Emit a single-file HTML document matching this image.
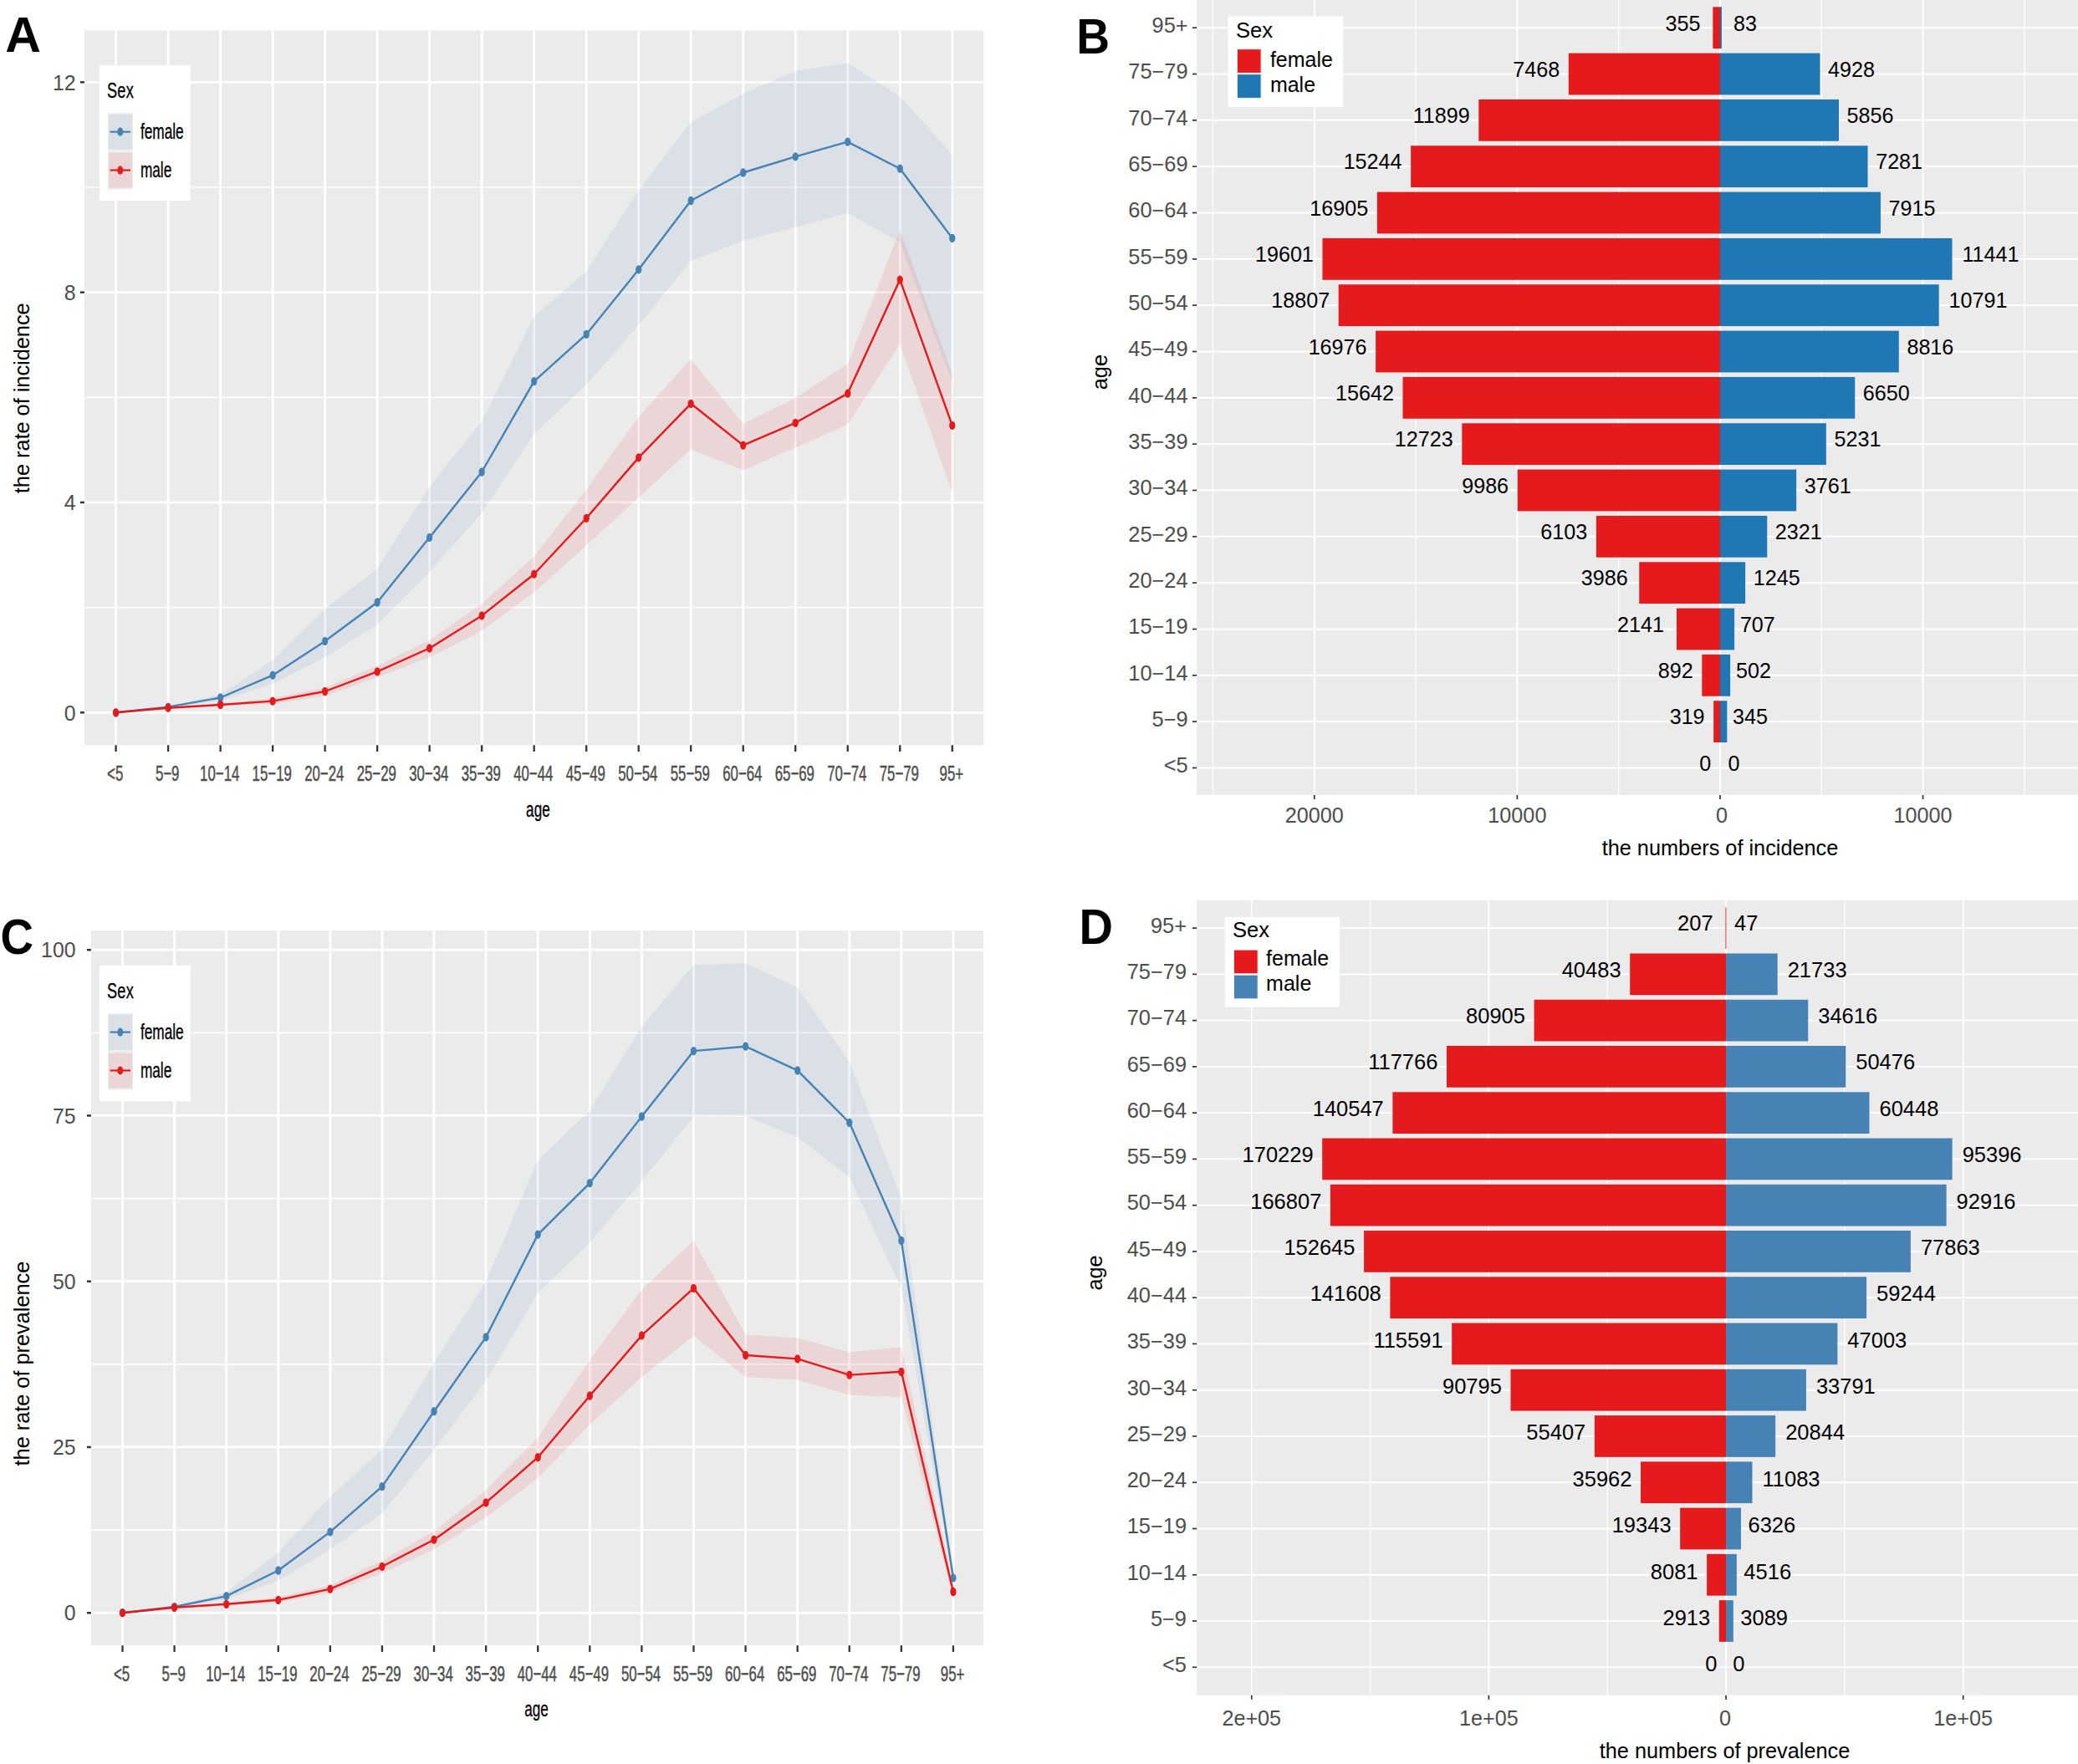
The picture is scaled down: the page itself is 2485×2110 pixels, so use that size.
<!DOCTYPE html>
<html lang="en"><head><meta charset="utf-8"><title>Incidence and prevalence by age and sex</title>
<style>html,body{margin:0;padding:0;background:#fff}body{width:2485px;height:2110px;overflow:hidden}svg{display:block}text{font-family:"Liberation Sans",sans-serif}</style></head>
<body>
<svg width="2485" height="2110" viewBox="0 0 2485 2110" font-family="'Liberation Sans', sans-serif">
<rect width="2485" height="2110" fill="#fff"/>
<rect x="100.9" y="36.5" width="1075.4" height="854.8" fill="#EBEBEB"/>
<line x1="100.9" x2="1176.3" y1="726.64" y2="726.64" stroke="#fff" stroke-opacity="0.95" stroke-width="1.7"/>
<line x1="100.9" x2="1176.3" y1="475.32" y2="475.32" stroke="#fff" stroke-opacity="0.95" stroke-width="1.7"/>
<line x1="100.9" x2="1176.3" y1="224" y2="224" stroke="#fff" stroke-opacity="0.95" stroke-width="1.7"/>
<line x1="100.9" x2="1176.3" y1="852.3" y2="852.3" stroke="#fff" stroke-width="2.75"/>
<line x1="100.9" x2="1176.3" y1="600.98" y2="600.98" stroke="#fff" stroke-width="2.75"/>
<line x1="100.9" x2="1176.3" y1="349.66" y2="349.66" stroke="#fff" stroke-width="2.75"/>
<line x1="100.9" x2="1176.3" y1="98.34" y2="98.34" stroke="#fff" stroke-width="2.75"/>
<line x1="138.6" x2="138.6" y1="36.5" y2="891.3" stroke="#fff" stroke-width="2.95"/>
<line x1="201.11" x2="201.11" y1="36.5" y2="891.3" stroke="#fff" stroke-width="2.95"/>
<line x1="263.62" x2="263.62" y1="36.5" y2="891.3" stroke="#fff" stroke-width="2.95"/>
<line x1="326.13" x2="326.13" y1="36.5" y2="891.3" stroke="#fff" stroke-width="2.95"/>
<line x1="388.64" x2="388.64" y1="36.5" y2="891.3" stroke="#fff" stroke-width="2.95"/>
<line x1="451.15" x2="451.15" y1="36.5" y2="891.3" stroke="#fff" stroke-width="2.95"/>
<line x1="513.66" x2="513.66" y1="36.5" y2="891.3" stroke="#fff" stroke-width="2.95"/>
<line x1="576.17" x2="576.17" y1="36.5" y2="891.3" stroke="#fff" stroke-width="2.95"/>
<line x1="638.68" x2="638.68" y1="36.5" y2="891.3" stroke="#fff" stroke-width="2.95"/>
<line x1="701.19" x2="701.19" y1="36.5" y2="891.3" stroke="#fff" stroke-width="2.95"/>
<line x1="763.7" x2="763.7" y1="36.5" y2="891.3" stroke="#fff" stroke-width="2.95"/>
<line x1="826.21" x2="826.21" y1="36.5" y2="891.3" stroke="#fff" stroke-width="2.95"/>
<line x1="888.72" x2="888.72" y1="36.5" y2="891.3" stroke="#fff" stroke-width="2.95"/>
<line x1="951.23" x2="951.23" y1="36.5" y2="891.3" stroke="#fff" stroke-width="2.95"/>
<line x1="1013.74" x2="1013.74" y1="36.5" y2="891.3" stroke="#fff" stroke-width="2.95"/>
<line x1="1076.25" x2="1076.25" y1="36.5" y2="891.3" stroke="#fff" stroke-width="2.95"/>
<line x1="1138.76" x2="1138.76" y1="36.5" y2="891.3" stroke="#fff" stroke-width="2.95"/>
<polygon points="138.6,852.3 201.11,845 263.62,830.7 326.13,789.9 388.64,728.6 451.15,680.4 513.66,582 576.17,504 638.68,378.6 701.19,324.8 763.7,227.5 826.21,146.1 888.72,112.2 951.23,84.7 1013.74,75.4 1076.25,115.2 1138.76,185 1138.76,457 1076.25,289.7 1013.74,255 951.23,271.8 888.72,287.9 826.21,311.9 763.7,389.1 701.19,460 638.68,518.8 576.17,613.5 513.66,684.1 451.15,747.2 388.64,786.2 326.13,817.8 263.62,838.2 201.11,846.2 138.6,852.3" fill="#4682B4" fill-opacity="0.1"/>
<polygon points="138.6,852.3 201.11,846 263.62,842 326.13,835.2 388.64,822.6 451.15,796.6 513.66,765.8 576.17,722.3 638.68,665.5 701.19,585.7 763.7,498.4 826.21,429.7 888.72,506.9 951.23,476.1 1013.74,435.3 1076.25,275.4 1138.76,448 1138.76,589.4 1076.25,411.6 1013.74,507.7 951.23,535.5 888.72,562.3 826.21,537.4 763.7,595 701.19,652.5 638.68,708.2 576.17,754.6 513.66,786.2 451.15,810.3 388.64,832.6 326.13,841.9 263.62,844 201.11,847.4 138.6,852.3" fill="#E41A1C" fill-opacity="0.1"/>
<polyline fill="none" stroke="#4682B4" stroke-width="2.4" stroke-linejoin="round" points="138.6,852.3 201.11,845.6 263.62,834.5 326.13,807.7 388.64,766.9 451.15,720.5 513.66,642.9 576.17,564.5 638.68,456.1 701.19,399.9 763.7,322.4 826.21,240 888.72,206.5 951.23,187.4 1013.74,169.7 1076.25,201.7 1138.76,284.9"/>
<ellipse cx="138.6" cy="852.3" rx="3.65" ry="5.15" fill="#4682B4"/>
<ellipse cx="201.11" cy="845.6" rx="3.65" ry="5.15" fill="#4682B4"/>
<ellipse cx="263.62" cy="834.5" rx="3.65" ry="5.15" fill="#4682B4"/>
<ellipse cx="326.13" cy="807.7" rx="3.65" ry="5.15" fill="#4682B4"/>
<ellipse cx="388.64" cy="766.9" rx="3.65" ry="5.15" fill="#4682B4"/>
<ellipse cx="451.15" cy="720.5" rx="3.65" ry="5.15" fill="#4682B4"/>
<ellipse cx="513.66" cy="642.9" rx="3.65" ry="5.15" fill="#4682B4"/>
<ellipse cx="576.17" cy="564.5" rx="3.65" ry="5.15" fill="#4682B4"/>
<ellipse cx="638.68" cy="456.1" rx="3.65" ry="5.15" fill="#4682B4"/>
<ellipse cx="701.19" cy="399.9" rx="3.65" ry="5.15" fill="#4682B4"/>
<ellipse cx="763.7" cy="322.4" rx="3.65" ry="5.15" fill="#4682B4"/>
<ellipse cx="826.21" cy="240" rx="3.65" ry="5.15" fill="#4682B4"/>
<ellipse cx="888.72" cy="206.5" rx="3.65" ry="5.15" fill="#4682B4"/>
<ellipse cx="951.23" cy="187.4" rx="3.65" ry="5.15" fill="#4682B4"/>
<ellipse cx="1013.74" cy="169.7" rx="3.65" ry="5.15" fill="#4682B4"/>
<ellipse cx="1076.25" cy="201.7" rx="3.65" ry="5.15" fill="#4682B4"/>
<ellipse cx="1138.76" cy="284.9" rx="3.65" ry="5.15" fill="#4682B4"/>
<polyline fill="none" stroke="#E41A1C" stroke-width="2.4" stroke-linejoin="round" points="138.6,852.3 201.11,846.7 263.62,843 326.13,838.6 388.64,827 451.15,803.3 513.66,775.4 576.17,736.4 638.68,686.7 701.19,619.8 763.7,547.4 826.21,482.8 888.72,532.6 951.23,505.8 1013.74,470.6 1076.25,334.6 1138.76,508.8"/>
<ellipse cx="138.6" cy="852.3" rx="3.65" ry="5.15" fill="#E41A1C"/>
<ellipse cx="201.11" cy="846.7" rx="3.65" ry="5.15" fill="#E41A1C"/>
<ellipse cx="263.62" cy="843" rx="3.65" ry="5.15" fill="#E41A1C"/>
<ellipse cx="326.13" cy="838.6" rx="3.65" ry="5.15" fill="#E41A1C"/>
<ellipse cx="388.64" cy="827" rx="3.65" ry="5.15" fill="#E41A1C"/>
<ellipse cx="451.15" cy="803.3" rx="3.65" ry="5.15" fill="#E41A1C"/>
<ellipse cx="513.66" cy="775.4" rx="3.65" ry="5.15" fill="#E41A1C"/>
<ellipse cx="576.17" cy="736.4" rx="3.65" ry="5.15" fill="#E41A1C"/>
<ellipse cx="638.68" cy="686.7" rx="3.65" ry="5.15" fill="#E41A1C"/>
<ellipse cx="701.19" cy="619.8" rx="3.65" ry="5.15" fill="#E41A1C"/>
<ellipse cx="763.7" cy="547.4" rx="3.65" ry="5.15" fill="#E41A1C"/>
<ellipse cx="826.21" cy="482.8" rx="3.65" ry="5.15" fill="#E41A1C"/>
<ellipse cx="888.72" cy="532.6" rx="3.65" ry="5.15" fill="#E41A1C"/>
<ellipse cx="951.23" cy="505.8" rx="3.65" ry="5.15" fill="#E41A1C"/>
<ellipse cx="1013.74" cy="470.6" rx="3.65" ry="5.15" fill="#E41A1C"/>
<ellipse cx="1076.25" cy="334.6" rx="3.65" ry="5.15" fill="#E41A1C"/>
<ellipse cx="1138.76" cy="508.8" rx="3.65" ry="5.15" fill="#E41A1C"/>
<line x1="138.6" x2="138.6" y1="891.3" y2="899" stroke="#333333" stroke-width="2.3"/>
<text transform="translate(137.7,934) scale(0.652,1)" text-anchor="middle" font-size="25.8" fill="#4D4D4D" stroke="#4D4D4D" stroke-width="0.45">&lt;5</text>
<line x1="201.11" x2="201.11" y1="891.3" y2="899" stroke="#333333" stroke-width="2.3"/>
<text transform="translate(200.21,934) scale(0.652,1)" text-anchor="middle" font-size="25.8" fill="#4D4D4D" stroke="#4D4D4D" stroke-width="0.45">5−9</text>
<line x1="263.62" x2="263.62" y1="891.3" y2="899" stroke="#333333" stroke-width="2.3"/>
<text transform="translate(262.72,934) scale(0.652,1)" text-anchor="middle" font-size="25.8" fill="#4D4D4D" stroke="#4D4D4D" stroke-width="0.45">10−14</text>
<line x1="326.13" x2="326.13" y1="891.3" y2="899" stroke="#333333" stroke-width="2.3"/>
<text transform="translate(325.23,934) scale(0.652,1)" text-anchor="middle" font-size="25.8" fill="#4D4D4D" stroke="#4D4D4D" stroke-width="0.45">15−19</text>
<line x1="388.64" x2="388.64" y1="891.3" y2="899" stroke="#333333" stroke-width="2.3"/>
<text transform="translate(387.74,934) scale(0.652,1)" text-anchor="middle" font-size="25.8" fill="#4D4D4D" stroke="#4D4D4D" stroke-width="0.45">20−24</text>
<line x1="451.15" x2="451.15" y1="891.3" y2="899" stroke="#333333" stroke-width="2.3"/>
<text transform="translate(450.25,934) scale(0.652,1)" text-anchor="middle" font-size="25.8" fill="#4D4D4D" stroke="#4D4D4D" stroke-width="0.45">25−29</text>
<line x1="513.66" x2="513.66" y1="891.3" y2="899" stroke="#333333" stroke-width="2.3"/>
<text transform="translate(512.76,934) scale(0.652,1)" text-anchor="middle" font-size="25.8" fill="#4D4D4D" stroke="#4D4D4D" stroke-width="0.45">30−34</text>
<line x1="576.17" x2="576.17" y1="891.3" y2="899" stroke="#333333" stroke-width="2.3"/>
<text transform="translate(575.27,934) scale(0.652,1)" text-anchor="middle" font-size="25.8" fill="#4D4D4D" stroke="#4D4D4D" stroke-width="0.45">35−39</text>
<line x1="638.68" x2="638.68" y1="891.3" y2="899" stroke="#333333" stroke-width="2.3"/>
<text transform="translate(637.78,934) scale(0.652,1)" text-anchor="middle" font-size="25.8" fill="#4D4D4D" stroke="#4D4D4D" stroke-width="0.45">40−44</text>
<line x1="701.19" x2="701.19" y1="891.3" y2="899" stroke="#333333" stroke-width="2.3"/>
<text transform="translate(700.29,934) scale(0.652,1)" text-anchor="middle" font-size="25.8" fill="#4D4D4D" stroke="#4D4D4D" stroke-width="0.45">45−49</text>
<line x1="763.7" x2="763.7" y1="891.3" y2="899" stroke="#333333" stroke-width="2.3"/>
<text transform="translate(762.8,934) scale(0.652,1)" text-anchor="middle" font-size="25.8" fill="#4D4D4D" stroke="#4D4D4D" stroke-width="0.45">50−54</text>
<line x1="826.21" x2="826.21" y1="891.3" y2="899" stroke="#333333" stroke-width="2.3"/>
<text transform="translate(825.31,934) scale(0.652,1)" text-anchor="middle" font-size="25.8" fill="#4D4D4D" stroke="#4D4D4D" stroke-width="0.45">55−59</text>
<line x1="888.72" x2="888.72" y1="891.3" y2="899" stroke="#333333" stroke-width="2.3"/>
<text transform="translate(887.82,934) scale(0.652,1)" text-anchor="middle" font-size="25.8" fill="#4D4D4D" stroke="#4D4D4D" stroke-width="0.45">60−64</text>
<line x1="951.23" x2="951.23" y1="891.3" y2="899" stroke="#333333" stroke-width="2.3"/>
<text transform="translate(950.33,934) scale(0.652,1)" text-anchor="middle" font-size="25.8" fill="#4D4D4D" stroke="#4D4D4D" stroke-width="0.45">65−69</text>
<line x1="1013.74" x2="1013.74" y1="891.3" y2="899" stroke="#333333" stroke-width="2.3"/>
<text transform="translate(1012.84,934) scale(0.652,1)" text-anchor="middle" font-size="25.8" fill="#4D4D4D" stroke="#4D4D4D" stroke-width="0.45">70−74</text>
<line x1="1076.25" x2="1076.25" y1="891.3" y2="899" stroke="#333333" stroke-width="2.3"/>
<text transform="translate(1075.35,934) scale(0.652,1)" text-anchor="middle" font-size="25.8" fill="#4D4D4D" stroke="#4D4D4D" stroke-width="0.45">75−79</text>
<line x1="1138.76" x2="1138.76" y1="891.3" y2="899" stroke="#333333" stroke-width="2.3"/>
<text transform="translate(1137.86,934) scale(0.652,1)" text-anchor="middle" font-size="25.8" fill="#4D4D4D" stroke="#4D4D4D" stroke-width="0.45">95+</text>
<line x1="95.9" x2="100.9" y1="852.3" y2="852.3" stroke="#333333" stroke-width="2.5"/>
<text transform="translate(90.6,861.5) scale(1,1.035)" text-anchor="end" font-size="24.9" fill="#4D4D4D">0</text>
<line x1="95.9" x2="100.9" y1="600.98" y2="600.98" stroke="#333333" stroke-width="2.5"/>
<text transform="translate(90.6,610.18) scale(1,1.035)" text-anchor="end" font-size="24.9" fill="#4D4D4D">4</text>
<line x1="95.9" x2="100.9" y1="349.66" y2="349.66" stroke="#333333" stroke-width="2.5"/>
<text transform="translate(90.6,358.86) scale(1,1.035)" text-anchor="end" font-size="24.9" fill="#4D4D4D">8</text>
<line x1="95.9" x2="100.9" y1="98.34" y2="98.34" stroke="#333333" stroke-width="2.5"/>
<text transform="translate(90.6,107.54) scale(1,1.035)" text-anchor="end" font-size="24.9" fill="#4D4D4D">12</text>
<text transform="translate(643.4,977.2) scale(0.67,1)" text-anchor="middle" font-size="25.6" fill="#000" stroke="#000" stroke-width="0.3">age</text>
<text transform="translate(34.8,476.3) rotate(-90)" text-anchor="middle" font-size="25.3" fill="#000">the rate of incidence</text>
<rect x="119" y="78" width="108.7" height="162.2" fill="#fff"/>
<text transform="translate(127.9,117) scale(0.693,1)" font-size="26.2" letter-spacing="0.4" fill="#000" stroke="#000" stroke-width="0.3">Sex</text>
<rect x="128.8" y="135.2" width="30.2" height="91.6" fill="#EEEEEE"/>
<rect x="129.9" y="136.8" width="28" height="42" fill="#EBEBEB"/>
<rect x="129.9" y="136.8" width="28" height="42" fill="#4682B4" fill-opacity="0.1"/>
<line x1="131.6" x2="156" y1="157.7" y2="157.7" stroke="#4682B4" stroke-width="2.2"/>
<ellipse cx="143.8" cy="157.7" rx="3.5" ry="5.1" fill="#4682B4"/>
<text transform="translate(167.9,165.8) scale(0.693,1)" font-size="24.9" fill="#000" stroke="#000" stroke-width="0.3">female</text>
<rect x="129.9" y="182.8" width="28" height="42" fill="#EBEBEB"/>
<rect x="129.9" y="182.8" width="28" height="42" fill="#E41A1C" fill-opacity="0.1"/>
<line x1="131.6" x2="156" y1="203.6" y2="203.6" stroke="#E41A1C" stroke-width="2.2"/>
<ellipse cx="143.8" cy="203.6" rx="3.5" ry="5.1" fill="#E41A1C"/>
<text transform="translate(167.9,211.7) scale(0.693,1)" font-size="24.9" fill="#000" stroke="#000" stroke-width="0.3">male</text>
<text transform="translate(6.2,62.4) scale(1,1)" font-size="59" font-weight="bold" fill="#000">A</text>
<rect x="1431.2" y="0" width="1053.8" height="950.9" fill="#EBEBEB"/>
<line x1="1450.5" x2="1450.5" y1="0" y2="950.9" stroke="#fff" stroke-opacity="0.85" stroke-width="1.5"/>
<line x1="1693.08" x2="1693.08" y1="0" y2="950.9" stroke="#fff" stroke-opacity="0.85" stroke-width="1.5"/>
<line x1="1935.66" x2="1935.66" y1="0" y2="950.9" stroke="#fff" stroke-opacity="0.85" stroke-width="1.5"/>
<line x1="2178.24" x2="2178.24" y1="0" y2="950.9" stroke="#fff" stroke-opacity="0.85" stroke-width="1.5"/>
<line x1="2420.82" x2="2420.82" y1="0" y2="950.9" stroke="#fff" stroke-opacity="0.85" stroke-width="1.5"/>
<line x1="1571.79" x2="1571.79" y1="0" y2="950.9" stroke="#fff" stroke-width="2.0"/>
<line x1="1814.37" x2="1814.37" y1="0" y2="950.9" stroke="#fff" stroke-width="2.0"/>
<line x1="2056.95" x2="2056.95" y1="0" y2="950.9" stroke="#fff" stroke-width="2.0"/>
<line x1="2299.53" x2="2299.53" y1="0" y2="950.9" stroke="#fff" stroke-width="2.0"/>
<line x1="1431.2" x2="2485" y1="918.48" y2="918.48" stroke="#fff" stroke-width="2.0"/>
<line x1="1431.2" x2="2485" y1="863.15" y2="863.15" stroke="#fff" stroke-width="2.0"/>
<line x1="1431.2" x2="2485" y1="807.82" y2="807.82" stroke="#fff" stroke-width="2.0"/>
<line x1="1431.2" x2="2485" y1="752.49" y2="752.49" stroke="#fff" stroke-width="2.0"/>
<line x1="1431.2" x2="2485" y1="697.16" y2="697.16" stroke="#fff" stroke-width="2.0"/>
<line x1="1431.2" x2="2485" y1="641.83" y2="641.83" stroke="#fff" stroke-width="2.0"/>
<line x1="1431.2" x2="2485" y1="586.5" y2="586.5" stroke="#fff" stroke-width="2.0"/>
<line x1="1431.2" x2="2485" y1="531.17" y2="531.17" stroke="#fff" stroke-width="2.0"/>
<line x1="1431.2" x2="2485" y1="475.84" y2="475.84" stroke="#fff" stroke-width="2.0"/>
<line x1="1431.2" x2="2485" y1="420.51" y2="420.51" stroke="#fff" stroke-width="2.0"/>
<line x1="1431.2" x2="2485" y1="365.18" y2="365.18" stroke="#fff" stroke-width="2.0"/>
<line x1="1431.2" x2="2485" y1="309.85" y2="309.85" stroke="#fff" stroke-width="2.0"/>
<line x1="1431.2" x2="2485" y1="254.52" y2="254.52" stroke="#fff" stroke-width="2.0"/>
<line x1="1431.2" x2="2485" y1="199.19" y2="199.19" stroke="#fff" stroke-width="2.0"/>
<line x1="1431.2" x2="2485" y1="143.86" y2="143.86" stroke="#fff" stroke-width="2.0"/>
<line x1="1431.2" x2="2485" y1="88.53" y2="88.53" stroke="#fff" stroke-width="2.0"/>
<line x1="1431.2" x2="2485" y1="33.2" y2="33.2" stroke="#fff" stroke-width="2.0"/>
<text x="2046.35" y="921.78" text-anchor="end" font-size="25.15" fill="#000">0</text>
<text x="2066.55" y="921.78" font-size="25.15" fill="#000">0</text>
<line x1="1426" x2="1431.2" y1="918.48" y2="918.48" stroke="#333333" stroke-width="1.7"/>
<text x="1420.6" y="924.28" text-anchor="end" font-size="25.4" fill="#4D4D4D">&lt;5</text>
<rect x="2049.21" y="838.25" width="8.04" height="49.8" fill="#E41A1C"/>
<rect x="2056.95" y="838.25" width="8.37" height="49.8" fill="#1F78B4"/>
<text x="2038.61" y="866.45" text-anchor="end" font-size="25.15" fill="#000">319</text>
<text x="2072.12" y="866.45" font-size="25.15" fill="#000">345</text>
<line x1="1426" x2="1431.2" y1="863.15" y2="863.15" stroke="#333333" stroke-width="1.7"/>
<text x="1420.6" y="868.95" text-anchor="end" font-size="25.4" fill="#4D4D4D">5−9</text>
<rect x="2035.31" y="782.92" width="21.94" height="49.8" fill="#E41A1C"/>
<rect x="2056.95" y="782.92" width="12.18" height="49.8" fill="#1F78B4"/>
<text x="2024.71" y="811.12" text-anchor="end" font-size="25.15" fill="#000">892</text>
<text x="2075.93" y="811.12" font-size="25.15" fill="#000">502</text>
<line x1="1426" x2="1431.2" y1="807.82" y2="807.82" stroke="#333333" stroke-width="1.7"/>
<text x="1420.6" y="813.62" text-anchor="end" font-size="25.4" fill="#4D4D4D">10−14</text>
<rect x="2005.01" y="727.59" width="52.24" height="49.8" fill="#E41A1C"/>
<rect x="2056.95" y="727.59" width="17.15" height="49.8" fill="#1F78B4"/>
<text x="1990.01" y="755.79" text-anchor="end" font-size="25.15" fill="#000">2141</text>
<text x="2080.9" y="755.79" font-size="25.15" fill="#000">707</text>
<line x1="1426" x2="1431.2" y1="752.49" y2="752.49" stroke="#333333" stroke-width="1.7"/>
<text x="1420.6" y="758.29" text-anchor="end" font-size="25.4" fill="#4D4D4D">15−19</text>
<rect x="1960.26" y="672.26" width="96.99" height="49.8" fill="#E41A1C"/>
<rect x="2056.95" y="672.26" width="30.2" height="49.8" fill="#1F78B4"/>
<text x="1946.76" y="700.46" text-anchor="end" font-size="25.15" fill="#000">3986</text>
<text x="2096.75" y="700.46" font-size="25.15" fill="#000">1245</text>
<line x1="1426" x2="1431.2" y1="697.16" y2="697.16" stroke="#333333" stroke-width="1.7"/>
<text x="1420.6" y="702.96" text-anchor="end" font-size="25.4" fill="#4D4D4D">20−24</text>
<rect x="1908.9" y="616.93" width="148.35" height="49.8" fill="#E41A1C"/>
<rect x="2056.95" y="616.93" width="56.3" height="49.8" fill="#1F78B4"/>
<text x="1898.3" y="645.13" text-anchor="end" font-size="25.15" fill="#000">6103</text>
<text x="2122.85" y="645.13" font-size="25.15" fill="#000">2321</text>
<line x1="1426" x2="1431.2" y1="641.83" y2="641.83" stroke="#333333" stroke-width="1.7"/>
<text x="1420.6" y="647.63" text-anchor="end" font-size="25.4" fill="#4D4D4D">25−29</text>
<rect x="1814.71" y="561.6" width="242.54" height="49.8" fill="#E41A1C"/>
<rect x="2056.95" y="561.6" width="91.23" height="49.8" fill="#1F78B4"/>
<text x="1804.11" y="589.8" text-anchor="end" font-size="25.15" fill="#000">9986</text>
<text x="2157.78" y="589.8" font-size="25.15" fill="#000">3761</text>
<line x1="1426" x2="1431.2" y1="586.5" y2="586.5" stroke="#333333" stroke-width="1.7"/>
<text x="1420.6" y="592.3" text-anchor="end" font-size="25.4" fill="#4D4D4D">30−34</text>
<rect x="1748.32" y="506.27" width="308.93" height="49.8" fill="#E41A1C"/>
<rect x="2056.95" y="506.27" width="126.89" height="49.8" fill="#1F78B4"/>
<text x="1737.72" y="534.47" text-anchor="end" font-size="25.15" fill="#000">12723</text>
<text x="2193.44" y="534.47" font-size="25.15" fill="#000">5231</text>
<line x1="1426" x2="1431.2" y1="531.17" y2="531.17" stroke="#333333" stroke-width="1.7"/>
<text x="1420.6" y="536.97" text-anchor="end" font-size="25.4" fill="#4D4D4D">35−39</text>
<rect x="1677.51" y="450.94" width="379.74" height="49.8" fill="#E41A1C"/>
<rect x="2056.95" y="450.94" width="161.32" height="49.8" fill="#1F78B4"/>
<text x="1666.91" y="479.14" text-anchor="end" font-size="25.15" fill="#000">15642</text>
<text x="2227.87" y="479.14" font-size="25.15" fill="#000">6650</text>
<line x1="1426" x2="1431.2" y1="475.84" y2="475.84" stroke="#333333" stroke-width="1.7"/>
<text x="1420.6" y="481.64" text-anchor="end" font-size="25.4" fill="#4D4D4D">40−44</text>
<rect x="1645.15" y="395.61" width="412.1" height="49.8" fill="#E41A1C"/>
<rect x="2056.95" y="395.61" width="213.86" height="49.8" fill="#1F78B4"/>
<text x="1634.55" y="423.81" text-anchor="end" font-size="25.15" fill="#000">16976</text>
<text x="2280.41" y="423.81" font-size="25.15" fill="#000">8816</text>
<line x1="1426" x2="1431.2" y1="420.51" y2="420.51" stroke="#333333" stroke-width="1.7"/>
<text x="1420.6" y="426.31" text-anchor="end" font-size="25.4" fill="#4D4D4D">45−49</text>
<rect x="1600.73" y="340.28" width="456.52" height="49.8" fill="#E41A1C"/>
<rect x="2056.95" y="340.28" width="261.77" height="49.8" fill="#1F78B4"/>
<text x="1590.13" y="368.48" text-anchor="end" font-size="25.15" fill="#000">18807</text>
<text x="2330.62" y="368.48" font-size="25.15" fill="#000">10791</text>
<line x1="1426" x2="1431.2" y1="365.18" y2="365.18" stroke="#333333" stroke-width="1.7"/>
<text x="1420.6" y="370.98" text-anchor="end" font-size="25.4" fill="#4D4D4D">50−54</text>
<rect x="1581.47" y="284.95" width="475.78" height="49.8" fill="#E41A1C"/>
<rect x="2056.95" y="284.95" width="277.54" height="49.8" fill="#1F78B4"/>
<text x="1570.87" y="313.15" text-anchor="end" font-size="25.15" fill="#000">19601</text>
<text x="2346.39" y="313.15" font-size="25.15" fill="#000">11441</text>
<line x1="1426" x2="1431.2" y1="309.85" y2="309.85" stroke="#333333" stroke-width="1.7"/>
<text x="1420.6" y="315.65" text-anchor="end" font-size="25.4" fill="#4D4D4D">55−59</text>
<rect x="1646.87" y="229.62" width="410.38" height="49.8" fill="#E41A1C"/>
<rect x="2056.95" y="229.62" width="192" height="49.8" fill="#1F78B4"/>
<text x="1636.27" y="257.82" text-anchor="end" font-size="25.15" fill="#000">16905</text>
<text x="2258.55" y="257.82" font-size="25.15" fill="#000">7915</text>
<line x1="1426" x2="1431.2" y1="254.52" y2="254.52" stroke="#333333" stroke-width="1.7"/>
<text x="1420.6" y="260.32" text-anchor="end" font-size="25.4" fill="#4D4D4D">60−64</text>
<rect x="1687.16" y="174.29" width="370.09" height="49.8" fill="#E41A1C"/>
<rect x="2056.95" y="174.29" width="176.62" height="49.8" fill="#1F78B4"/>
<text x="1676.56" y="202.49" text-anchor="end" font-size="25.15" fill="#000">15244</text>
<text x="2243.17" y="202.49" font-size="25.15" fill="#000">7281</text>
<line x1="1426" x2="1431.2" y1="199.19" y2="199.19" stroke="#333333" stroke-width="1.7"/>
<text x="1420.6" y="204.99" text-anchor="end" font-size="25.4" fill="#4D4D4D">65−69</text>
<rect x="1768.3" y="118.96" width="288.95" height="49.8" fill="#E41A1C"/>
<rect x="2056.95" y="118.96" width="142.05" height="49.8" fill="#1F78B4"/>
<text x="1757.7" y="147.16" text-anchor="end" font-size="25.15" fill="#000">11899</text>
<text x="2208.6" y="147.16" font-size="25.15" fill="#000">5856</text>
<line x1="1426" x2="1431.2" y1="143.86" y2="143.86" stroke="#333333" stroke-width="1.7"/>
<text x="1420.6" y="149.66" text-anchor="end" font-size="25.4" fill="#4D4D4D">70−74</text>
<rect x="1875.79" y="63.63" width="181.46" height="49.8" fill="#E41A1C"/>
<rect x="2056.95" y="63.63" width="119.54" height="49.8" fill="#1F78B4"/>
<text x="1865.19" y="91.83" text-anchor="end" font-size="25.15" fill="#000">7468</text>
<text x="2186.09" y="91.83" font-size="25.15" fill="#000">4928</text>
<line x1="1426" x2="1431.2" y1="88.53" y2="88.53" stroke="#333333" stroke-width="1.7"/>
<text x="1420.6" y="94.33" text-anchor="end" font-size="25.4" fill="#4D4D4D">75−79</text>
<rect x="2048.34" y="8.3" width="8.91" height="49.8" fill="#E41A1C"/>
<rect x="2056.95" y="8.3" width="2.01" height="49.8" fill="#1F78B4"/>
<text x="2033.44" y="36.5" text-anchor="end" font-size="25.15" fill="#000">355</text>
<text x="2072.96" y="36.5" font-size="25.15" fill="#000">83</text>
<line x1="1426" x2="1431.2" y1="33.2" y2="33.2" stroke="#333333" stroke-width="1.7"/>
<text x="1420.6" y="39" text-anchor="end" font-size="25.4" fill="#4D4D4D">95+</text>
<line x1="1571.79" x2="1571.79" y1="950.9" y2="956.1" stroke="#333333" stroke-width="1.7"/>
<text x="1571.79" y="983.8" text-anchor="middle" font-size="25.2" fill="#4D4D4D">20000</text>
<line x1="1814.37" x2="1814.37" y1="950.9" y2="956.1" stroke="#333333" stroke-width="1.7"/>
<text x="1814.37" y="983.8" text-anchor="middle" font-size="25.2" fill="#4D4D4D">10000</text>
<line x1="2056.95" x2="2056.95" y1="950.9" y2="956.1" stroke="#333333" stroke-width="1.7"/>
<text x="2058.95" y="983.8" text-anchor="middle" font-size="25.2" fill="#4D4D4D">0</text>
<line x1="2299.53" x2="2299.53" y1="950.9" y2="956.1" stroke="#333333" stroke-width="1.7"/>
<text x="2299.53" y="983.8" text-anchor="middle" font-size="25.2" fill="#4D4D4D">10000</text>
<text x="2057" y="1022.7" text-anchor="middle" font-size="25.3" fill="#000">the numbers of incidence</text>
<text transform="translate(1324.3,445.1) rotate(-90)" text-anchor="middle" font-size="25.3" fill="#000">age</text>
<rect x="1468.6" y="19.5" width="137.7" height="108.6" fill="#fff"/>
<text x="1477.9" y="45.3" font-size="25.6" fill="#000">Sex</text>
<rect x="1479.4" y="58.7" width="28.7" height="28.7" fill="#E41A1C" stroke="#F0F0F0" stroke-width="1"/>
<text x="1518.9" y="79.9" font-size="25" fill="#000">female</text>
<rect x="1479.4" y="88.7" width="28.7" height="28.7" fill="#1F78B4" stroke="#F0F0F0" stroke-width="1"/>
<text x="1518.9" y="109.9" font-size="25" fill="#000">male</text>
<text transform="translate(1287.2,63.6) scale(0.935,1)" font-size="59" font-weight="bold" fill="#000">B</text>
<rect x="108.9" y="1113" width="1067.3" height="855.2" fill="#EBEBEB"/>
<line x1="108.9" x2="1176.2" y1="1830.08" y2="1830.08" stroke="#fff" stroke-opacity="0.95" stroke-width="1.7"/>
<line x1="108.9" x2="1176.2" y1="1631.83" y2="1631.83" stroke="#fff" stroke-opacity="0.95" stroke-width="1.7"/>
<line x1="108.9" x2="1176.2" y1="1433.58" y2="1433.58" stroke="#fff" stroke-opacity="0.95" stroke-width="1.7"/>
<line x1="108.9" x2="1176.2" y1="1235.33" y2="1235.33" stroke="#fff" stroke-opacity="0.95" stroke-width="1.7"/>
<line x1="108.9" x2="1176.2" y1="1929.2" y2="1929.2" stroke="#fff" stroke-width="2.75"/>
<line x1="108.9" x2="1176.2" y1="1730.95" y2="1730.95" stroke="#fff" stroke-width="2.75"/>
<line x1="108.9" x2="1176.2" y1="1532.7" y2="1532.7" stroke="#fff" stroke-width="2.75"/>
<line x1="108.9" x2="1176.2" y1="1334.45" y2="1334.45" stroke="#fff" stroke-width="2.75"/>
<line x1="108.9" x2="1176.2" y1="1136.2" y2="1136.2" stroke="#fff" stroke-width="2.75"/>
<line x1="146.5" x2="146.5" y1="1113" y2="1968.2" stroke="#fff" stroke-width="2.95"/>
<line x1="208.59" x2="208.59" y1="1113" y2="1968.2" stroke="#fff" stroke-width="2.95"/>
<line x1="270.68" x2="270.68" y1="1113" y2="1968.2" stroke="#fff" stroke-width="2.95"/>
<line x1="332.77" x2="332.77" y1="1113" y2="1968.2" stroke="#fff" stroke-width="2.95"/>
<line x1="394.86" x2="394.86" y1="1113" y2="1968.2" stroke="#fff" stroke-width="2.95"/>
<line x1="456.95" x2="456.95" y1="1113" y2="1968.2" stroke="#fff" stroke-width="2.95"/>
<line x1="519.04" x2="519.04" y1="1113" y2="1968.2" stroke="#fff" stroke-width="2.95"/>
<line x1="581.13" x2="581.13" y1="1113" y2="1968.2" stroke="#fff" stroke-width="2.95"/>
<line x1="643.22" x2="643.22" y1="1113" y2="1968.2" stroke="#fff" stroke-width="2.95"/>
<line x1="705.31" x2="705.31" y1="1113" y2="1968.2" stroke="#fff" stroke-width="2.95"/>
<line x1="767.4" x2="767.4" y1="1113" y2="1968.2" stroke="#fff" stroke-width="2.95"/>
<line x1="829.49" x2="829.49" y1="1113" y2="1968.2" stroke="#fff" stroke-width="2.95"/>
<line x1="891.58" x2="891.58" y1="1113" y2="1968.2" stroke="#fff" stroke-width="2.95"/>
<line x1="953.67" x2="953.67" y1="1113" y2="1968.2" stroke="#fff" stroke-width="2.95"/>
<line x1="1015.76" x2="1015.76" y1="1113" y2="1968.2" stroke="#fff" stroke-width="2.95"/>
<line x1="1077.85" x2="1077.85" y1="1113" y2="1968.2" stroke="#fff" stroke-width="2.95"/>
<line x1="1139.94" x2="1139.94" y1="1113" y2="1968.2" stroke="#fff" stroke-width="2.95"/>
<polygon points="146.5,1929.2 208.59,1921 270.68,1904.9 332.77,1856.7 394.86,1790.6 456.95,1733.5 519.04,1630 581.13,1533 643.22,1387.4 705.31,1328.5 767.4,1228.1 829.49,1154.2 891.58,1152.3 953.67,1181.3 1015.76,1270.2 1077.85,1433.6 1139.94,1880 1139.94,1893 1077.85,1541 1015.76,1408.1 953.67,1360.3 891.58,1334.9 829.49,1335.8 767.4,1412.9 705.31,1486.2 643.22,1546.7 581.13,1651.4 519.04,1734.2 456.95,1810.3 394.86,1853.1 332.77,1890.6 270.68,1913.1 208.59,1923 146.5,1929.2" fill="#4682B4" fill-opacity="0.1"/>
<polygon points="146.5,1929.2 208.59,1922 270.68,1917 332.77,1910.5 394.86,1896 456.95,1866.7 519.04,1831.7 581.13,1782.5 643.22,1719.6 705.31,1626.3 767.4,1542.5 829.49,1483.9 891.58,1596.4 953.67,1600.6 1015.76,1617.5 1077.85,1611.2 1139.94,1894 1139.94,1911.6 1077.85,1671.2 1015.76,1668.5 953.67,1650.5 891.58,1647 829.49,1597.8 767.4,1647 705.31,1704.1 643.22,1768.1 581.13,1815 519.04,1853.1 456.95,1881.7 394.86,1904.9 332.77,1917 270.68,1920.5 208.59,1923.5 146.5,1929.2" fill="#E41A1C" fill-opacity="0.1"/>
<polyline fill="none" stroke="#4682B4" stroke-width="2.4" stroke-linejoin="round" points="146.5,1929.2 208.59,1922 270.68,1909.2 332.77,1878.5 394.86,1832.4 456.95,1778.1 519.04,1688.2 581.13,1599.4 643.22,1476.6 705.31,1415.1 767.4,1335.5 829.49,1257.1 891.58,1251.7 953.67,1280.4 1015.76,1342.8 1077.85,1483.9 1139.94,1887.4"/>
<ellipse cx="146.5" cy="1929.2" rx="3.65" ry="5.15" fill="#4682B4"/>
<ellipse cx="208.59" cy="1922" rx="3.65" ry="5.15" fill="#4682B4"/>
<ellipse cx="270.68" cy="1909.2" rx="3.65" ry="5.15" fill="#4682B4"/>
<ellipse cx="332.77" cy="1878.5" rx="3.65" ry="5.15" fill="#4682B4"/>
<ellipse cx="394.86" cy="1832.4" rx="3.65" ry="5.15" fill="#4682B4"/>
<ellipse cx="456.95" cy="1778.1" rx="3.65" ry="5.15" fill="#4682B4"/>
<ellipse cx="519.04" cy="1688.2" rx="3.65" ry="5.15" fill="#4682B4"/>
<ellipse cx="581.13" cy="1599.4" rx="3.65" ry="5.15" fill="#4682B4"/>
<ellipse cx="643.22" cy="1476.6" rx="3.65" ry="5.15" fill="#4682B4"/>
<ellipse cx="705.31" cy="1415.1" rx="3.65" ry="5.15" fill="#4682B4"/>
<ellipse cx="767.4" cy="1335.5" rx="3.65" ry="5.15" fill="#4682B4"/>
<ellipse cx="829.49" cy="1257.1" rx="3.65" ry="5.15" fill="#4682B4"/>
<ellipse cx="891.58" cy="1251.7" rx="3.65" ry="5.15" fill="#4682B4"/>
<ellipse cx="953.67" cy="1280.4" rx="3.65" ry="5.15" fill="#4682B4"/>
<ellipse cx="1015.76" cy="1342.8" rx="3.65" ry="5.15" fill="#4682B4"/>
<ellipse cx="1077.85" cy="1483.9" rx="3.65" ry="5.15" fill="#4682B4"/>
<ellipse cx="1139.94" cy="1887.4" rx="3.65" ry="5.15" fill="#4682B4"/>
<polyline fill="none" stroke="#E41A1C" stroke-width="2.4" stroke-linejoin="round" points="146.5,1929.2 208.59,1922.8 270.68,1918.8 332.77,1913.8 394.86,1900.6 456.95,1873.8 519.04,1841.7 581.13,1797.4 643.22,1743.2 705.31,1669.5 767.4,1597.4 829.49,1540.9 891.58,1621 953.67,1625.4 1015.76,1644.6 1077.85,1640.8 1139.94,1904"/>
<ellipse cx="146.5" cy="1929.2" rx="3.65" ry="5.15" fill="#E41A1C"/>
<ellipse cx="208.59" cy="1922.8" rx="3.65" ry="5.15" fill="#E41A1C"/>
<ellipse cx="270.68" cy="1918.8" rx="3.65" ry="5.15" fill="#E41A1C"/>
<ellipse cx="332.77" cy="1913.8" rx="3.65" ry="5.15" fill="#E41A1C"/>
<ellipse cx="394.86" cy="1900.6" rx="3.65" ry="5.15" fill="#E41A1C"/>
<ellipse cx="456.95" cy="1873.8" rx="3.65" ry="5.15" fill="#E41A1C"/>
<ellipse cx="519.04" cy="1841.7" rx="3.65" ry="5.15" fill="#E41A1C"/>
<ellipse cx="581.13" cy="1797.4" rx="3.65" ry="5.15" fill="#E41A1C"/>
<ellipse cx="643.22" cy="1743.2" rx="3.65" ry="5.15" fill="#E41A1C"/>
<ellipse cx="705.31" cy="1669.5" rx="3.65" ry="5.15" fill="#E41A1C"/>
<ellipse cx="767.4" cy="1597.4" rx="3.65" ry="5.15" fill="#E41A1C"/>
<ellipse cx="829.49" cy="1540.9" rx="3.65" ry="5.15" fill="#E41A1C"/>
<ellipse cx="891.58" cy="1621" rx="3.65" ry="5.15" fill="#E41A1C"/>
<ellipse cx="953.67" cy="1625.4" rx="3.65" ry="5.15" fill="#E41A1C"/>
<ellipse cx="1015.76" cy="1644.6" rx="3.65" ry="5.15" fill="#E41A1C"/>
<ellipse cx="1077.85" cy="1640.8" rx="3.65" ry="5.15" fill="#E41A1C"/>
<ellipse cx="1139.94" cy="1904" rx="3.65" ry="5.15" fill="#E41A1C"/>
<line x1="146.5" x2="146.5" y1="1968.2" y2="1975.9" stroke="#333333" stroke-width="2.3"/>
<text transform="translate(145.6,2010.6) scale(0.652,1)" text-anchor="middle" font-size="25.8" fill="#4D4D4D" stroke="#4D4D4D" stroke-width="0.45">&lt;5</text>
<line x1="208.59" x2="208.59" y1="1968.2" y2="1975.9" stroke="#333333" stroke-width="2.3"/>
<text transform="translate(207.69,2010.6) scale(0.652,1)" text-anchor="middle" font-size="25.8" fill="#4D4D4D" stroke="#4D4D4D" stroke-width="0.45">5−9</text>
<line x1="270.68" x2="270.68" y1="1968.2" y2="1975.9" stroke="#333333" stroke-width="2.3"/>
<text transform="translate(269.78,2010.6) scale(0.652,1)" text-anchor="middle" font-size="25.8" fill="#4D4D4D" stroke="#4D4D4D" stroke-width="0.45">10−14</text>
<line x1="332.77" x2="332.77" y1="1968.2" y2="1975.9" stroke="#333333" stroke-width="2.3"/>
<text transform="translate(331.87,2010.6) scale(0.652,1)" text-anchor="middle" font-size="25.8" fill="#4D4D4D" stroke="#4D4D4D" stroke-width="0.45">15−19</text>
<line x1="394.86" x2="394.86" y1="1968.2" y2="1975.9" stroke="#333333" stroke-width="2.3"/>
<text transform="translate(393.96,2010.6) scale(0.652,1)" text-anchor="middle" font-size="25.8" fill="#4D4D4D" stroke="#4D4D4D" stroke-width="0.45">20−24</text>
<line x1="456.95" x2="456.95" y1="1968.2" y2="1975.9" stroke="#333333" stroke-width="2.3"/>
<text transform="translate(456.05,2010.6) scale(0.652,1)" text-anchor="middle" font-size="25.8" fill="#4D4D4D" stroke="#4D4D4D" stroke-width="0.45">25−29</text>
<line x1="519.04" x2="519.04" y1="1968.2" y2="1975.9" stroke="#333333" stroke-width="2.3"/>
<text transform="translate(518.14,2010.6) scale(0.652,1)" text-anchor="middle" font-size="25.8" fill="#4D4D4D" stroke="#4D4D4D" stroke-width="0.45">30−34</text>
<line x1="581.13" x2="581.13" y1="1968.2" y2="1975.9" stroke="#333333" stroke-width="2.3"/>
<text transform="translate(580.23,2010.6) scale(0.652,1)" text-anchor="middle" font-size="25.8" fill="#4D4D4D" stroke="#4D4D4D" stroke-width="0.45">35−39</text>
<line x1="643.22" x2="643.22" y1="1968.2" y2="1975.9" stroke="#333333" stroke-width="2.3"/>
<text transform="translate(642.32,2010.6) scale(0.652,1)" text-anchor="middle" font-size="25.8" fill="#4D4D4D" stroke="#4D4D4D" stroke-width="0.45">40−44</text>
<line x1="705.31" x2="705.31" y1="1968.2" y2="1975.9" stroke="#333333" stroke-width="2.3"/>
<text transform="translate(704.41,2010.6) scale(0.652,1)" text-anchor="middle" font-size="25.8" fill="#4D4D4D" stroke="#4D4D4D" stroke-width="0.45">45−49</text>
<line x1="767.4" x2="767.4" y1="1968.2" y2="1975.9" stroke="#333333" stroke-width="2.3"/>
<text transform="translate(766.5,2010.6) scale(0.652,1)" text-anchor="middle" font-size="25.8" fill="#4D4D4D" stroke="#4D4D4D" stroke-width="0.45">50−54</text>
<line x1="829.49" x2="829.49" y1="1968.2" y2="1975.9" stroke="#333333" stroke-width="2.3"/>
<text transform="translate(828.59,2010.6) scale(0.652,1)" text-anchor="middle" font-size="25.8" fill="#4D4D4D" stroke="#4D4D4D" stroke-width="0.45">55−59</text>
<line x1="891.58" x2="891.58" y1="1968.2" y2="1975.9" stroke="#333333" stroke-width="2.3"/>
<text transform="translate(890.68,2010.6) scale(0.652,1)" text-anchor="middle" font-size="25.8" fill="#4D4D4D" stroke="#4D4D4D" stroke-width="0.45">60−64</text>
<line x1="953.67" x2="953.67" y1="1968.2" y2="1975.9" stroke="#333333" stroke-width="2.3"/>
<text transform="translate(952.77,2010.6) scale(0.652,1)" text-anchor="middle" font-size="25.8" fill="#4D4D4D" stroke="#4D4D4D" stroke-width="0.45">65−69</text>
<line x1="1015.76" x2="1015.76" y1="1968.2" y2="1975.9" stroke="#333333" stroke-width="2.3"/>
<text transform="translate(1014.86,2010.6) scale(0.652,1)" text-anchor="middle" font-size="25.8" fill="#4D4D4D" stroke="#4D4D4D" stroke-width="0.45">70−74</text>
<line x1="1077.85" x2="1077.85" y1="1968.2" y2="1975.9" stroke="#333333" stroke-width="2.3"/>
<text transform="translate(1076.95,2010.6) scale(0.652,1)" text-anchor="middle" font-size="25.8" fill="#4D4D4D" stroke="#4D4D4D" stroke-width="0.45">75−79</text>
<line x1="1139.94" x2="1139.94" y1="1968.2" y2="1975.9" stroke="#333333" stroke-width="2.3"/>
<text transform="translate(1139.04,2010.6) scale(0.652,1)" text-anchor="middle" font-size="25.8" fill="#4D4D4D" stroke="#4D4D4D" stroke-width="0.45">95+</text>
<line x1="103.9" x2="108.9" y1="1929.2" y2="1929.2" stroke="#333333" stroke-width="2.5"/>
<text transform="translate(90.6,1938.4) scale(1,1.035)" text-anchor="end" font-size="24.9" fill="#4D4D4D">0</text>
<line x1="103.9" x2="108.9" y1="1730.95" y2="1730.95" stroke="#333333" stroke-width="2.5"/>
<text transform="translate(90.6,1740.15) scale(1,1.035)" text-anchor="end" font-size="24.9" fill="#4D4D4D">25</text>
<line x1="103.9" x2="108.9" y1="1532.7" y2="1532.7" stroke="#333333" stroke-width="2.5"/>
<text transform="translate(90.6,1541.9) scale(1,1.035)" text-anchor="end" font-size="24.9" fill="#4D4D4D">50</text>
<line x1="103.9" x2="108.9" y1="1334.45" y2="1334.45" stroke="#333333" stroke-width="2.5"/>
<text transform="translate(90.6,1343.65) scale(1,1.035)" text-anchor="end" font-size="24.9" fill="#4D4D4D">75</text>
<line x1="103.9" x2="108.9" y1="1136.2" y2="1136.2" stroke="#333333" stroke-width="2.5"/>
<text transform="translate(90.6,1145.4) scale(1,1.035)" text-anchor="end" font-size="24.9" fill="#4D4D4D">100</text>
<text transform="translate(641.6,2053.2) scale(0.67,1)" text-anchor="middle" font-size="25.6" fill="#000" stroke="#000" stroke-width="0.3">age</text>
<text transform="translate(34.8,1631.1) rotate(-90)" text-anchor="middle" font-size="25.3" fill="#000">the rate of prevalence</text>
<rect x="119" y="1154.9" width="108.7" height="162.2" fill="#fff"/>
<text transform="translate(127.9,1193.9) scale(0.693,1)" font-size="26.2" letter-spacing="0.4" fill="#000" stroke="#000" stroke-width="0.3">Sex</text>
<rect x="128.8" y="1212.1" width="30.2" height="91.6" fill="#EEEEEE"/>
<rect x="129.9" y="1213.7" width="28" height="42" fill="#EBEBEB"/>
<rect x="129.9" y="1213.7" width="28" height="42" fill="#4682B4" fill-opacity="0.1"/>
<line x1="131.6" x2="156" y1="1234.6" y2="1234.6" stroke="#4682B4" stroke-width="2.2"/>
<ellipse cx="143.8" cy="1234.6" rx="3.5" ry="5.1" fill="#4682B4"/>
<text transform="translate(167.9,1242.7) scale(0.693,1)" font-size="24.9" fill="#000" stroke="#000" stroke-width="0.3">female</text>
<rect x="129.9" y="1259.7" width="28" height="42" fill="#EBEBEB"/>
<rect x="129.9" y="1259.7" width="28" height="42" fill="#E41A1C" fill-opacity="0.1"/>
<line x1="131.6" x2="156" y1="1280.5" y2="1280.5" stroke="#E41A1C" stroke-width="2.2"/>
<ellipse cx="143.8" cy="1280.5" rx="3.5" ry="5.1" fill="#E41A1C"/>
<text transform="translate(167.9,1288.6) scale(0.693,1)" font-size="24.9" fill="#000" stroke="#000" stroke-width="0.3">male</text>
<text transform="translate(0.4,1141) scale(0.927,1)" font-size="59" font-weight="bold" fill="#000">C</text>
<rect x="1431.2" y="1076.8" width="1053.8" height="950.9" fill="#EBEBEB"/>
<line x1="1354.95" x2="1354.95" y1="1076.8" y2="2027.7" stroke="#fff" stroke-opacity="0.85" stroke-width="1.5"/>
<line x1="1638.59" x2="1638.59" y1="1076.8" y2="2027.7" stroke="#fff" stroke-opacity="0.85" stroke-width="1.5"/>
<line x1="1922.23" x2="1922.23" y1="1076.8" y2="2027.7" stroke="#fff" stroke-opacity="0.85" stroke-width="1.5"/>
<line x1="2205.87" x2="2205.87" y1="1076.8" y2="2027.7" stroke="#fff" stroke-opacity="0.85" stroke-width="1.5"/>
<line x1="1496.77" x2="1496.77" y1="1076.8" y2="2027.7" stroke="#fff" stroke-width="1.9"/>
<line x1="1780.41" x2="1780.41" y1="1076.8" y2="2027.7" stroke="#fff" stroke-width="1.9"/>
<line x1="2064.05" x2="2064.05" y1="1076.8" y2="2027.7" stroke="#fff" stroke-width="1.9"/>
<line x1="2347.69" x2="2347.69" y1="1076.8" y2="2027.7" stroke="#fff" stroke-width="1.9"/>
<line x1="1431.2" x2="2485" y1="1994.26" y2="1994.26" stroke="#fff" stroke-width="1.9"/>
<line x1="1431.2" x2="2485" y1="1939" y2="1939" stroke="#fff" stroke-width="1.9"/>
<line x1="1431.2" x2="2485" y1="1883.74" y2="1883.74" stroke="#fff" stroke-width="1.9"/>
<line x1="1431.2" x2="2485" y1="1828.48" y2="1828.48" stroke="#fff" stroke-width="1.9"/>
<line x1="1431.2" x2="2485" y1="1773.22" y2="1773.22" stroke="#fff" stroke-width="1.9"/>
<line x1="1431.2" x2="2485" y1="1717.96" y2="1717.96" stroke="#fff" stroke-width="1.9"/>
<line x1="1431.2" x2="2485" y1="1662.7" y2="1662.7" stroke="#fff" stroke-width="1.9"/>
<line x1="1431.2" x2="2485" y1="1607.44" y2="1607.44" stroke="#fff" stroke-width="1.9"/>
<line x1="1431.2" x2="2485" y1="1552.18" y2="1552.18" stroke="#fff" stroke-width="1.9"/>
<line x1="1431.2" x2="2485" y1="1496.92" y2="1496.92" stroke="#fff" stroke-width="1.9"/>
<line x1="1431.2" x2="2485" y1="1441.66" y2="1441.66" stroke="#fff" stroke-width="1.9"/>
<line x1="1431.2" x2="2485" y1="1386.4" y2="1386.4" stroke="#fff" stroke-width="1.9"/>
<line x1="1431.2" x2="2485" y1="1331.14" y2="1331.14" stroke="#fff" stroke-width="1.9"/>
<line x1="1431.2" x2="2485" y1="1275.88" y2="1275.88" stroke="#fff" stroke-width="1.9"/>
<line x1="1431.2" x2="2485" y1="1220.62" y2="1220.62" stroke="#fff" stroke-width="1.9"/>
<line x1="1431.2" x2="2485" y1="1165.36" y2="1165.36" stroke="#fff" stroke-width="1.9"/>
<line x1="1431.2" x2="2485" y1="1110.1" y2="1110.1" stroke="#fff" stroke-width="1.9"/>
<text x="2053.45" y="1999.46" text-anchor="end" font-size="25.5" fill="#000">0</text>
<text x="2072.35" y="1999.46" font-size="25.5" fill="#000">0</text>
<line x1="1426" x2="1431.2" y1="1994.26" y2="1994.26" stroke="#333333" stroke-width="1.7"/>
<text x="1419" y="2000.06" text-anchor="end" font-size="25.4" fill="#4D4D4D">&lt;5</text>
<rect x="2055.79" y="1914.13" width="8.56" height="49.73" fill="#E41A1C"/>
<rect x="2064.05" y="1914.13" width="8.76" height="49.73" fill="#4682B4"/>
<text x="2045.19" y="1944.07" text-anchor="end" font-size="25.5" fill="#000">2913</text>
<text x="2081.31" y="1944.07" font-size="25.5" fill="#000">3089</text>
<line x1="1426" x2="1431.2" y1="1939" y2="1939" stroke="#333333" stroke-width="1.7"/>
<text x="1419" y="1944.8" text-anchor="end" font-size="25.4" fill="#4D4D4D">5−9</text>
<rect x="2041.13" y="1858.87" width="23.22" height="49.73" fill="#E41A1C"/>
<rect x="2064.05" y="1858.87" width="12.81" height="49.73" fill="#4682B4"/>
<text x="2030.53" y="1888.67" text-anchor="end" font-size="25.5" fill="#000">8081</text>
<text x="2085.36" y="1888.67" font-size="25.5" fill="#000">4516</text>
<line x1="1426" x2="1431.2" y1="1883.74" y2="1883.74" stroke="#333333" stroke-width="1.7"/>
<text x="1419" y="1889.54" text-anchor="end" font-size="25.4" fill="#4D4D4D">10−14</text>
<rect x="2009.19" y="1803.61" width="55.16" height="49.73" fill="#E41A1C"/>
<rect x="2064.05" y="1803.61" width="17.94" height="49.73" fill="#4682B4"/>
<text x="1998.59" y="1833.28" text-anchor="end" font-size="25.5" fill="#000">19343</text>
<text x="2090.49" y="1833.28" font-size="25.5" fill="#000">6326</text>
<line x1="1426" x2="1431.2" y1="1828.48" y2="1828.48" stroke="#333333" stroke-width="1.7"/>
<text x="1419" y="1834.28" text-anchor="end" font-size="25.4" fill="#4D4D4D">15−19</text>
<rect x="1962.05" y="1748.35" width="102.3" height="49.73" fill="#E41A1C"/>
<rect x="2064.05" y="1748.35" width="31.44" height="49.73" fill="#4682B4"/>
<text x="1951.45" y="1777.89" text-anchor="end" font-size="25.5" fill="#000">35962</text>
<text x="2107.49" y="1777.89" font-size="25.5" fill="#000">11083</text>
<line x1="1426" x2="1431.2" y1="1773.22" y2="1773.22" stroke="#333333" stroke-width="1.7"/>
<text x="1419" y="1779.02" text-anchor="end" font-size="25.4" fill="#4D4D4D">20−24</text>
<rect x="1906.89" y="1693.09" width="157.46" height="49.73" fill="#E41A1C"/>
<rect x="2064.05" y="1693.09" width="59.12" height="49.73" fill="#4682B4"/>
<text x="1896.29" y="1722.49" text-anchor="end" font-size="25.5" fill="#000">55407</text>
<text x="2135.17" y="1722.49" font-size="25.5" fill="#000">20844</text>
<line x1="1426" x2="1431.2" y1="1717.96" y2="1717.96" stroke="#333333" stroke-width="1.7"/>
<text x="1419" y="1723.76" text-anchor="end" font-size="25.4" fill="#4D4D4D">25−29</text>
<rect x="1806.52" y="1637.83" width="257.83" height="49.73" fill="#E41A1C"/>
<rect x="2064.05" y="1637.83" width="95.84" height="49.73" fill="#4682B4"/>
<text x="1795.92" y="1667.1" text-anchor="end" font-size="25.5" fill="#000">90795</text>
<text x="2171.89" y="1667.1" font-size="25.5" fill="#000">33791</text>
<line x1="1426" x2="1431.2" y1="1662.7" y2="1662.7" stroke="#333333" stroke-width="1.7"/>
<text x="1419" y="1668.5" text-anchor="end" font-size="25.4" fill="#4D4D4D">30−34</text>
<rect x="1736.19" y="1582.57" width="328.16" height="49.73" fill="#E41A1C"/>
<rect x="2064.05" y="1582.57" width="133.32" height="49.73" fill="#4682B4"/>
<text x="1725.59" y="1611.71" text-anchor="end" font-size="25.5" fill="#000">115591</text>
<text x="2209.37" y="1611.71" font-size="25.5" fill="#000">47003</text>
<line x1="1426" x2="1431.2" y1="1607.44" y2="1607.44" stroke="#333333" stroke-width="1.7"/>
<text x="1419" y="1613.24" text-anchor="end" font-size="25.4" fill="#4D4D4D">35−39</text>
<rect x="1662.39" y="1527.31" width="401.96" height="49.73" fill="#E41A1C"/>
<rect x="2064.05" y="1527.31" width="168.04" height="49.73" fill="#4682B4"/>
<text x="1651.79" y="1556.31" text-anchor="end" font-size="25.5" fill="#000">141608</text>
<text x="2244.09" y="1556.31" font-size="25.5" fill="#000">59244</text>
<line x1="1426" x2="1431.2" y1="1552.18" y2="1552.18" stroke="#333333" stroke-width="1.7"/>
<text x="1419" y="1557.98" text-anchor="end" font-size="25.4" fill="#4D4D4D">40−44</text>
<rect x="1631.09" y="1472.05" width="433.26" height="49.73" fill="#E41A1C"/>
<rect x="2064.05" y="1472.05" width="220.85" height="49.73" fill="#4682B4"/>
<text x="1620.49" y="1500.92" text-anchor="end" font-size="25.5" fill="#000">152645</text>
<text x="2296.9" y="1500.92" font-size="25.5" fill="#000">77863</text>
<line x1="1426" x2="1431.2" y1="1496.92" y2="1496.92" stroke="#333333" stroke-width="1.7"/>
<text x="1419" y="1502.72" text-anchor="end" font-size="25.4" fill="#4D4D4D">45−49</text>
<rect x="1590.92" y="1416.79" width="473.43" height="49.73" fill="#E41A1C"/>
<rect x="2064.05" y="1416.79" width="263.55" height="49.73" fill="#4682B4"/>
<text x="1580.32" y="1445.53" text-anchor="end" font-size="25.5" fill="#000">166807</text>
<text x="2339.6" y="1445.53" font-size="25.5" fill="#000">92916</text>
<line x1="1426" x2="1431.2" y1="1441.66" y2="1441.66" stroke="#333333" stroke-width="1.7"/>
<text x="1419" y="1447.46" text-anchor="end" font-size="25.4" fill="#4D4D4D">50−54</text>
<rect x="1581.21" y="1361.53" width="483.14" height="49.73" fill="#E41A1C"/>
<rect x="2064.05" y="1361.53" width="270.58" height="49.73" fill="#4682B4"/>
<text x="1570.61" y="1390.13" text-anchor="end" font-size="25.5" fill="#000">170229</text>
<text x="2346.63" y="1390.13" font-size="25.5" fill="#000">95396</text>
<line x1="1426" x2="1431.2" y1="1386.4" y2="1386.4" stroke="#333333" stroke-width="1.7"/>
<text x="1419" y="1392.2" text-anchor="end" font-size="25.4" fill="#4D4D4D">55−59</text>
<rect x="1665.4" y="1306.27" width="398.95" height="49.73" fill="#E41A1C"/>
<rect x="2064.05" y="1306.27" width="171.45" height="49.73" fill="#4682B4"/>
<text x="1654.8" y="1334.74" text-anchor="end" font-size="25.5" fill="#000">140547</text>
<text x="2247.5" y="1334.74" font-size="25.5" fill="#000">60448</text>
<line x1="1426" x2="1431.2" y1="1331.14" y2="1331.14" stroke="#333333" stroke-width="1.7"/>
<text x="1419" y="1336.94" text-anchor="end" font-size="25.4" fill="#4D4D4D">60−64</text>
<rect x="1730.02" y="1251.01" width="334.33" height="49.73" fill="#E41A1C"/>
<rect x="2064.05" y="1251.01" width="143.17" height="49.73" fill="#4682B4"/>
<text x="1719.42" y="1279.35" text-anchor="end" font-size="25.5" fill="#000">117766</text>
<text x="2219.22" y="1279.35" font-size="25.5" fill="#000">50476</text>
<line x1="1426" x2="1431.2" y1="1275.88" y2="1275.88" stroke="#333333" stroke-width="1.7"/>
<text x="1419" y="1281.68" text-anchor="end" font-size="25.4" fill="#4D4D4D">65−69</text>
<rect x="1834.57" y="1195.75" width="229.78" height="49.73" fill="#E41A1C"/>
<rect x="2064.05" y="1195.75" width="98.18" height="49.73" fill="#4682B4"/>
<text x="1823.97" y="1223.95" text-anchor="end" font-size="25.5" fill="#000">80905</text>
<text x="2174.23" y="1223.95" font-size="25.5" fill="#000">34616</text>
<line x1="1426" x2="1431.2" y1="1220.62" y2="1220.62" stroke="#333333" stroke-width="1.7"/>
<text x="1419" y="1226.42" text-anchor="end" font-size="25.4" fill="#4D4D4D">70−74</text>
<rect x="1949.22" y="1140.49" width="115.13" height="49.73" fill="#E41A1C"/>
<rect x="2064.05" y="1140.49" width="61.64" height="49.73" fill="#4682B4"/>
<text x="1938.62" y="1168.56" text-anchor="end" font-size="25.5" fill="#000">40483</text>
<text x="2137.69" y="1168.56" font-size="25.5" fill="#000">21733</text>
<line x1="1426" x2="1431.2" y1="1165.36" y2="1165.36" stroke="#333333" stroke-width="1.7"/>
<text x="1419" y="1171.16" text-anchor="end" font-size="25.4" fill="#4D4D4D">75−79</text>
<rect x="2063.46" y="1085.23" width="0.89" height="49.73" fill="#E41A1C"/>
<rect x="2064.05" y="1085.23" width="0.13" height="49.73" fill="#4682B4"/>
<text x="2048.66" y="1113.17" text-anchor="end" font-size="25.5" fill="#000">207</text>
<text x="2074.08" y="1113.17" font-size="25.5" fill="#000">47</text>
<line x1="1426" x2="1431.2" y1="1110.1" y2="1110.1" stroke="#333333" stroke-width="1.7"/>
<text x="1419" y="1115.9" text-anchor="end" font-size="25.4" fill="#4D4D4D">95+</text>
<line x1="1496.77" x2="1496.77" y1="2027.7" y2="2032.9" stroke="#333333" stroke-width="1.7"/>
<text x="1496.77" y="2063.8" text-anchor="middle" font-size="25.2" fill="#4D4D4D">2e+05</text>
<line x1="1780.41" x2="1780.41" y1="2027.7" y2="2032.9" stroke="#333333" stroke-width="1.7"/>
<text x="1780.41" y="2063.8" text-anchor="middle" font-size="25.2" fill="#4D4D4D">1e+05</text>
<line x1="2064.05" x2="2064.05" y1="2027.7" y2="2032.9" stroke="#333333" stroke-width="1.7"/>
<text x="2063.05" y="2063.8" text-anchor="middle" font-size="25.2" fill="#4D4D4D">0</text>
<line x1="2347.69" x2="2347.69" y1="2027.7" y2="2032.9" stroke="#333333" stroke-width="1.7"/>
<text x="2347.69" y="2063.8" text-anchor="middle" font-size="25.2" fill="#4D4D4D">1e+05</text>
<text x="2062.5" y="2102.7" text-anchor="middle" font-size="25.3" fill="#000">the numbers of prevalence</text>
<text transform="translate(1318.3,1522.5) rotate(-90)" text-anchor="middle" font-size="25.3" fill="#000">age</text>
<rect x="1464.7" y="1096.9" width="137.4" height="107.8" fill="#fff"/>
<text x="1474" y="1121.4" font-size="25.6" fill="#000">Sex</text>
<rect x="1475.5" y="1136.1" width="28.7" height="28.7" fill="#E41A1C" stroke="#F0F0F0" stroke-width="1"/>
<text x="1514.1" y="1154.8" font-size="25" fill="#000">female</text>
<rect x="1475.5" y="1166.1" width="28.7" height="28.7" fill="#4682B4" stroke="#F0F0F0" stroke-width="1"/>
<text x="1514.1" y="1184.8" font-size="25" fill="#000">male</text>
<text transform="translate(1290.4,1129.3) scale(0.95,1)" font-size="59" font-weight="bold" fill="#000">D</text>
</svg>
</body></html>
